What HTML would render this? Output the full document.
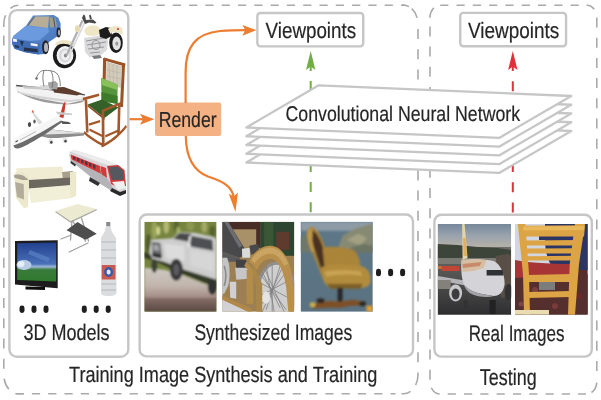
<!DOCTYPE html>
<html><head><meta charset="utf-8">
<style>
html,body{margin:0;padding:0;background:#fff;}
body{width:601px;height:400px;overflow:hidden;position:relative;}
body>svg{position:absolute;left:0;top:0;will-change:transform;}
text{font-family:"Liberation Sans",sans-serif;fill:#262626;text-rendering:geometricPrecision;stroke:#262626;stroke-width:0.2px;}
</style></head>
<body>
<svg width="601" height="400" viewBox="0 0 601 400">
<defs>
</defs>
<!-- outer dashed boxes -->
<g fill="none" stroke="#aaaaaa" stroke-width="1.6">
<path d="M26.1 5.2 H405" stroke-dasharray="8.2 8.1"/>
<path d="M15.6 393.8 H395.5" stroke-dasharray="8.2 8.1"/>
<path d="M3.8 35.5 V369" stroke-dasharray="10 10.2"/>
<path d="M418 29 V363" stroke-dasharray="10 10.2"/>
<path d="M10.40 8.27 A14.5 19 0 0 1 18.30 5.20"/>
<path d="M5.50 15.28 A14.5 19 0 0 0 3.80 24.20 L3.8 27"/>
<path d="M402.0 5.2 A14.5 19 0 0 1 408.93 6.58"/>
<path d="M411.82 8.64 A14.5 19 0 0 1 417.13 17.70"/>
<path d="M418 372.5 L418 374.8 A14.5 19 0 0 1 415.66 385.15"/>
<path d="M410.53 391.42 A14.5 19 0 0 1 403.50 393.80 L401.5 393.8"/>
<path d="M8.79 389.14 A14.5 19 0 0 1 4.12 378.75"/>
<path d="M15.53 393.45 A14.5 19 0 0 0 18.30 393.80 L23.8 393.8"/>
<path d="M440.2 5.2 H580" stroke-dasharray="8.2 8.1"/>
<path d="M447.7 394 H586" stroke-dasharray="8.2 8.1"/>
<path d="M430 26.4 V381" stroke-dasharray="10 10.2"/>
<path d="M596.8 17.5 V373" stroke-dasharray="10 10.2"/>
<path d="M433.84 7.85 A10 12.5 0 0 0 430.00 17.70 L430 17"/>
<path d="M586.45 5.21 A10 12.5 0 0 1 594.23 9.34"/>
<path d="M596.76 382.59 A10 12.5 0 0 1 591.49 392.54"/>
<path d="M431.34 387.75 A10 12.5 0 0 0 439.65 393.99"/>
</g>

<!-- inner boxes -->
<g fill="none" stroke="#c6c6c6" stroke-width="2.4">
  <rect x="9.4" y="10.15" width="118.9" height="346.55" rx="7.5"/>
  <rect x="139.65" y="214.55" width="273.35" height="141.85" rx="7"/>
  <rect x="434.4" y="214.8" width="157.4" height="141.8" rx="7"/>
  <rect x="257.35" y="12.95" width="105.9" height="33.4" rx="3"/>
  <rect x="460.25" y="12.9" width="105.8" height="33.3" rx="3"/>
</g>

<!-- Render box -->
<rect x="155" y="102.4" width="66.2" height="33.6" rx="2" fill="#f4b183"/>


<!-- orange arrows -->
<g fill="none" stroke="#ed7d31" stroke-width="2.2" stroke-linecap="butt">
  <path d="M129.6 119.2 H145"/>
  <path d="M185.6 103 V72 C185.6 46 196 33.5 220 31 C230 30.2 238 30.1 246 30.1"/>
  <path d="M185.8 136 C186 158 194 171 208 176.5 C223 181.5 232 186 234 198"/>
</g>
<g fill="#ed7d31">
  <path d="M154.4 119.2 L140 113.8 L143 119.2 L140 124.8 Z"/>
  <path d="M256.4 30.1 L242.4 24.9 L245.3 30.1 L242.4 35.7 Z"/>
  <path transform="translate(235.5 212) rotate(83.5)" d="M0 0 L-19 -4.6 L-15.5 0 L-19 4.6 Z"/>
</g>

<!-- green / red dashed arrows (behind CNN) -->
<g fill="none" stroke-width="2" >
  <path d="M310.7 212.3 V62" stroke="#70ad47" stroke-dasharray="10 10.2"/>
  <path d="M512.8 212.5 V62" stroke="#e0303a" stroke-dasharray="10 10.2"/>
</g>
<path d="M310.7 51 L306 70 L310.7 66.5 L315.4 70 Z" fill="#70ad47"/>
<path d="M512.8 51 L508.1 70 L512.8 66.5 L517.5 70 Z" fill="#e0303a"/>

<!-- CNN layers -->
<g fill="#fff" stroke="#c6c6c6" stroke-width="2.3" stroke-linejoin="round">
  <path d="M318.7 120.30 L571.3 131.00 L499.1 172.90 L246.3 162.50 Z"/>
  <path d="M318.7 111.55 L571.3 122.25 L499.1 164.15 L246.3 153.75 Z"/>
  <path d="M318.7 102.80 L571.3 113.50 L499.1 155.40 L246.3 145.00 Z"/>
  <path d="M318.7 94.05 L571.3 104.75 L499.1 146.65 L246.3 136.25 Z"/>
  <path d="M318.7 85.30 L571.3 96.00 L499.1 137.90 L246.3 127.50 Z"/>
</g>


<!-- synthesized image 1: truck -->
<svg x="144.3" y="221.8" width="72.3" height="90" viewBox="0 0 72.3 90">
  <defs>
    <linearGradient id="g1ground" x1="0" y1="0" x2="0" y2="1">
      <stop offset="0" stop-color="#cdc8c2"/>
      <stop offset="0.4" stop-color="#c2b6ae"/>
      <stop offset="0.7" stop-color="#a08880"/>
      <stop offset="1" stop-color="#5a4a46"/>
    </linearGradient>
    <filter id="bl1" x="-0.1" y="-0.1" width="1.2" height="1.2"><feGaussianBlur stdDeviation="0.8"/></filter>
  </defs>
  <rect width="72.3" height="90" fill="#76843f"/>
  <g filter="url(#bl1)">
    <ellipse cx="10" cy="8" rx="3" ry="9" fill="#98a25a"/>
    <ellipse cx="22" cy="5" rx="3" ry="7" fill="#b4b872"/>
    <ellipse cx="4" cy="22" rx="2.5" ry="10" fill="#4e5a2a"/>
    <ellipse cx="32" cy="5" rx="3" ry="6" fill="#5a6830"/>
    <ellipse cx="46" cy="4" rx="4" ry="5" fill="#8c9650"/>
    <ellipse cx="60" cy="5" rx="3" ry="6" fill="#a4a866"/>
    <ellipse cx="68" cy="10" rx="3" ry="6" fill="#56642e"/>
    <ellipse cx="14" cy="9" rx="2" ry="4.5" fill="#d0d48c"/>
    <ellipse cx="34" cy="10" rx="2" ry="5" fill="#a0b064"/>
    <path d="M0 46 L0 90 L72.3 90 L72.3 66 L60 62 L40 54 L20 48 Z" fill="url(#g1ground)"/>
    <path d="M0 36 L10 39 L25 46 L40 53 L60 61 L72.3 65 L72.3 56 L40 46 L20 40 L0 30 Z" fill="#343a26"/>
    <!-- truck body -->
    <path d="M7 18 L28 16.5 L35 10.5 L50 11 L68 15 L72.3 17 L72.3 58 L40 48 L30 44 L20 40 L8 37 L5 30 Z" fill="#cdcdcd"/>
    <path d="M29 17 L35 11.2 L47 12 L44 20 Z" fill="#48494c"/>
    <path d="M47 14 L68 18 L69 29 L47 25 L45 20 Z" fill="#4e4f53"/>
    <path d="M45 14 L47 14 L45 26 L43 25 Z" fill="#e6e6e6"/>
    <path d="M7.5 20 L16 21 L18 35 L8 34 Z" fill="#6a6b6e"/>
    <path d="M9 23 L14 23.5 L15 29 L9.5 28.5 Z" fill="#a6a7aa"/>
    <path d="M8 31 L17 33 L17 37 L8 35 Z" fill="#2a2a2a"/>
    <path d="M20 22 L40 24 L40 40 L22 36 Z" fill="#dcdcdc"/>
    <path d="M46 28 L70 32 L70 50 L46 44 Z" fill="#d6d6d6"/>
    <ellipse cx="32" cy="48" rx="6.5" ry="11" fill="#38383a"/>
    <ellipse cx="32" cy="48" rx="3" ry="6" fill="#5c5c5e"/>
    <ellipse cx="10" cy="44" rx="3" ry="7" fill="#3e4234"/>
    <ellipse cx="68" cy="65" rx="4.5" ry="8" fill="#333"/>
    <rect x="0" y="76" width="72.3" height="14" fill="#5a4640" opacity="0.4"/>
  </g>
</svg>

<!-- synthesized image 2: motorcycle -->
<svg x="222.2" y="221.8" width="72.1" height="90" viewBox="0 0 72.1 90">
  <defs>
    <filter id="bl2" x="-0.1" y="-0.1" width="1.2" height="1.2"><feGaussianBlur stdDeviation="0.7"/></filter>
  </defs>
  <rect width="72.1" height="90" fill="#9c8054"/>
  <g filter="url(#bl2)">
    <rect x="4" y="0" width="34" height="9" fill="#4a2e28"/>
    <rect x="33.5" y="0" width="4.5" height="26" fill="#4a2e28"/>
    <rect x="9" y="7.5" width="25" height="18" fill="#a89068"/>
    <rect x="38" y="0" width="34.1" height="34" fill="#2f4530"/>
    <rect x="42" y="0" width="9" height="30" fill="#3a5636"/>
    <rect x="54" y="10" width="13" height="18" fill="#5e3a2e"/>
    <path d="M0 0 L6 0 L22 26 L22 34 L17 36 L0 30 Z" fill="#4a4a4c"/>
    <path d="M2 0 L6 0 L20 24 L17 26 Z" fill="#6e6e72"/>
    <path d="M0 30 L17 36 L20 40 L0 40 Z" fill="#5a5a5a"/>
    <path d="M19.8 27 L27.5 26 L28 36 L20 36 Z" fill="#dadada"/>
    <path d="M27 24 L36 22 L37 30 L29 33 Z" fill="#4a4a4c"/>
    <!-- left engine / frame -->
    <path d="M0 36 L5 36 C8 44 8 56 6 64 L2 72 L0 72 Z" fill="#c4c4c6"/>
    <path d="M2 44 C4 50 4 58 2 64" stroke="#8a8a8a" stroke-width="1.5" fill="none"/>
    <path d="M13.5 38 L24 38 L25 46 L14 47 Z" fill="#424244"/>
    <path d="M13 46 L26 46 L26 57 L14 58 Z" fill="#c6c6c8"/>
    <path d="M7.5 60 L14 60 L14 77 L8 76 Z" fill="#d0d0d2"/>
    <rect x="24.5" y="48" width="6.5" height="34" fill="#b48c4a"/>
    <path d="M24 40 L38 56 L36 60 L22 44 Z" fill="#b48c4a"/>
    <path d="M0 77 L26 90 L0 90 Z" fill="#d2d2d4"/>
    <path d="M0 74 L28 86 L30 90 L26 90 L0 78 Z" fill="#b08848"/>
    <!-- wheel -->
    <ellipse cx="54" cy="72" rx="20" ry="32" fill="#909090"/>
    <ellipse cx="54" cy="72" rx="17" ry="29" fill="#cfcfd0"/>
    <g stroke="#808080" stroke-width="0.8">
      <path d="M40 50 L58 86 M44 44 L52 90 M50 42 L50 90 M58 44 L44 88 M64 50 L40 82 M68 58 L38 74 M36 60 L70 78 M38 52 L64 88 M42 46 L62 90 M60 46 L40 90"/>
    </g>
    <ellipse cx="44" cy="76" rx="4" ry="6" fill="#e4e4e4"/>
    <!-- fender -->
    <path d="M27 40 C31 30 40 24 48 24 C60 24 68 38 70 56 L72.1 70 L72.1 90 L66 90 L64 66 C62 50 56 37 48 37 C42 37 37 42 35 48 Z" fill="#b8904c"/>
    <path d="M29 38 C35 29 42 26 48 26 C56 26 62 32 66 42 L62 44 C58 36 54 32 48 32 C42 32 36 36 32 42 Z" fill="#c9a462"/>
    <path d="M31 40 L35 52 L40 62 L40 90 L34 90 L34 64 L30 48 Z" fill="#a88648"/>
  </g>
</svg>

<!-- synthesized image 3: chair by the sea -->
<svg x="300.6" y="221.8" width="72.2" height="90" viewBox="0 0 72.2 90">
  <defs>
    <filter id="bl3" x="-0.1" y="-0.1" width="1.2" height="1.2"><feGaussianBlur stdDeviation="0.8"/></filter>
    <linearGradient id="g3sea" x1="0" y1="0" x2="0" y2="1">
      <stop offset="0" stop-color="#5d7888"/>
      <stop offset="1" stop-color="#5a7282"/>
    </linearGradient>
  </defs>
  <rect width="72.2" height="90" fill="url(#g3sea)"/>
  <g filter="url(#bl3)">
    <rect x="0" y="0" width="72.2" height="9" fill="#8d9ba6"/>
    <path d="M36 30 L42 14 L52 8 L64 4 L72.2 2 L72.2 30 Z" fill="#878a72"/>
    <path d="M46 18 L58 12 L66 16 L60 24 Z" fill="#a3a084"/>
    <path d="M50 26 L62 22 L72.2 24 L72.2 31 L48 31 Z" fill="#6c7462"/>
    <path d="M0 16 L6 12 L12 18 L14 30 L0 31 Z" fill="#6e776a"/>
    <!-- chair back -->
    <path d="M6 12 C6 6 10 4 14 6 C18 9 22 18 26 30 L31 46 L22 56 C17 44 12 32 8 22 Z" fill="#a8843a"/>
    <path d="M12 9 C16 10 20 18 23 28 L26 44 L20 46 C17 36 13 26 11 18 C10.5 14 11 10 12 9 Z" fill="#4a3020"/>
    <path d="M7 14 C7 9 9 7 11 7 L12 12 C11 18 12 24 14 30 L11 30 C9 24 7 19 7 14 Z" fill="#c09a4c"/>
    <!-- seat and arm -->
    <path d="M22 26 C30 24 42 25 52 28 C58 32 60 40 60 46 L40 50 L24 46 Z" fill="#aa8438"/>
    <path d="M22 46 C26 42 40 42 56 44 C66 44 70 50 70 58 C70 64 66 66 60 66 L30 66 C24 64 20 56 22 46 Z" fill="#b28c3e"/>
    <path d="M24 50 C34 48 50 48 60 50 L62 54 C50 52 36 52 26 55 Z" fill="#c9a455"/>
    <path d="M26 62 L62 62 L60 67 L30 67 Z" fill="#7e6026"/>
    <!-- pedestal & base -->
    <rect x="37" y="66" width="5" height="18" fill="#262626"/>
    <path d="M12 82 L30 79 L38 80 L52 78 L64 80 L64 84 L50 84 L40 86 L26 86 L12 87 Z" fill="#7e5028"/>
    <ellipse cx="20" cy="79" rx="4" ry="2.5" fill="#2e2620"/>
    <ellipse cx="62" cy="82" rx="3.5" ry="2.5" fill="#2e2620"/>
    <ellipse cx="12" cy="83" rx="3" ry="2.5" fill="#c9b050"/>
    <rect x="66" y="84" width="6" height="6" fill="#e0a030"/>
  </g>
</svg>


<!-- real image 1: airplane -->
<svg x="437.6" y="224" width="73.6" height="90.7" viewBox="0 0 73.6 90.7">
  <defs>
    <filter id="bl4" x="-0.1" y="-0.1" width="1.2" height="1.2"><feGaussianBlur stdDeviation="0.7"/></filter>
    <linearGradient id="g4sky" x1="0" y1="0" x2="0" y2="1">
      <stop offset="0" stop-color="#76889a"/>
      <stop offset="0.5" stop-color="#9aa4ae"/>
      <stop offset="1" stop-color="#b8b2a6"/>
    </linearGradient>
    <linearGradient id="g4gnd" x1="0" y1="0" x2="0" y2="1">
      <stop offset="0" stop-color="#6c6c68"/>
      <stop offset="0.5" stop-color="#4e4e4e"/>
      <stop offset="1" stop-color="#2e2e30"/>
    </linearGradient>
  </defs>
  <rect width="73.6" height="24" fill="url(#g4sky)"/>
  <rect y="23" width="73.6" height="68" fill="url(#g4gnd)"/>
  <g filter="url(#bl4)">
    <path d="M0 20 L20 21 L40 23 L60 24 L73.6 26 L73.6 34 L0 35 Z" fill="#3e443a"/>
    <rect x="0" y="34" width="73.6" height="6" fill="#7a7a72"/>
    <rect x="4" y="42" width="18" height="5" fill="#c24434"/>
    <rect x="0" y="42" width="4" height="3" fill="#d07030"/>
    <!-- jet bridge -->
    <path d="M58 32 L70 30 L73.6 32 L73.6 70 L64 74 L60 50 Z" fill="#5a5046"/>
    <!-- tail -->
    <path d="M24.5 0 L27 0 L30 34 L25 36 Z" fill="#e4d2a8"/>
    <path d="M25.5 14 L28 14 L29.5 32 L26 32 Z" fill="#e0b060"/>
    <!-- wing -->
    <path d="M0 52 L30 57 L34 60 L30 62 L0 56 Z" fill="#b4b4b8"/>
    <rect x="0" y="56" width="13" height="9" fill="#84807a"/>
    <!-- fuselage -->
    <path d="M24 36 C32 35 48 35 56 37 C63 40 67 50 67 60 C66 68 62 72 56 72 L44 70 C36 68 30 66 26 60 C24 54 23 44 24 36 Z" fill="#d4d4d8"/>
    <path d="M24 36 C32 35 42 35 49 36 L46 44 L36 47 L25 48 Z" fill="#d6bea2"/>
    <path d="M25 40 L44 38 L42 42 L25 44 Z" fill="#c88a6a"/>
    <path d="M26 60 C30 66 36 68 44 70 L56 72 C50 74 40 73 34 70 C30 68 27 64 26 60 Z" fill="#a4a4a8"/>
    <path d="M49 46 L65 46 L66 51.5 L49 51.5 Z" fill="#2e3036"/>
    <!-- engines -->
    <ellipse cx="18" cy="69" rx="6.5" ry="8.5" fill="#c8c8cc"/>
    <ellipse cx="18" cy="70" rx="4" ry="5.5" fill="#3c3c40"/>
    <ellipse cx="71" cy="68" rx="4" ry="8" fill="#303034"/>
    <!-- gear -->
    <rect x="52" y="76" width="6" height="14" fill="#202022"/>
    <rect x="26" y="76" width="4" height="8" fill="#303032"/>
  </g>
</svg>


<!-- real image 2: wooden chair -->
<svg x="515" y="224" width="72.8" height="90.7" viewBox="0 0 72.8 90.7">
  <defs>
    <filter id="bl5" x="-0.1" y="-0.1" width="1.2" height="1.2"><feGaussianBlur stdDeviation="0.6"/></filter>
  </defs>
  <rect width="72.8" height="90.7" fill="#582c2c"/>
  <g filter="url(#bl5)">
    <rect x="0" y="0" width="72.8" height="44" fill="#d2d6e2"/>
    <path d="M30 0 L72.8 0 L72.8 46 L40 46 C34 40 30 30 30 16 Z" fill="#2a3566"/>
    <path d="M24 12 L40 12 L40 16 L24 16 Z" fill="#2e3560"/>
    <path d="M0 36 C10 38 30 40 60 40 L62 56 L0 57 Z" fill="#a83434"/>
    <path d="M0 54 L72.8 50 L72.8 90.7 L0 90.7 Z" fill="#552e2e"/>
    <circle cx="20" cy="66" r="3" fill="#7a4040"/>
    <circle cx="40" cy="82" r="3" fill="#7a3a3a"/>
    <circle cx="64" cy="72" r="3" fill="#6a2a2a"/>
    <circle cx="6" cy="80" r="2.5" fill="#7a4444"/>
    <rect x="24" y="58" width="16" height="8" fill="#7c7c7c"/>
    <!-- wood -->
    <g fill="#dca444">
      <path d="M2.8 0 L10.4 0 L14 50 L15 90.7 L9 90.7 L8 50 Z"/>
      <path d="M60 0 L70 0 L64 40 L60 90.7 L53 90.7 L54.7 40 Z"/>
      <path d="M7.9 1.8 L70 1.2 L69 12.6 L8.5 12.6 Z"/>
      <path d="M10 16.4 L64 16 L63.5 21.4 L10.5 21.4 Z"/>
      <path d="M10.5 24.6 L63 24.2 L62.5 29.6 L11 29.6 Z"/>
      <path d="M11 32.2 L62 31.8 L61.5 36.6 L11 36.6 Z"/>
      <path d="M12 51 L57 50 L57 58 L13 58 Z"/>
      <path d="M13 68 L56 67 L56 73 L13 74 Z"/>
    </g>
    <path d="M8 2.5 L69 2 L69 6 L8.2 6.5 Z" fill="#e8b85a"/>
    <rect x="0" y="86" width="34" height="4.7" fill="#e8dcb0"/>
  </g>
</svg>


<!-- 3D models -->
<defs>
  <filter id="blm" x="-0.05" y="-0.05" width="1.1" height="1.1"><feGaussianBlur stdDeviation="0.35"/></filter>
  <linearGradient id="gcar" x1="0" y1="0" x2="1" y2="1">
    <stop offset="0" stop-color="#6a98d8"/>
    <stop offset="1" stop-color="#4070b8"/>
  </linearGradient>
  <linearGradient id="gtv" x1="0" y1="0" x2="0" y2="1">
    <stop offset="0" stop-color="#22408e"/>
    <stop offset="0.55" stop-color="#4a70b8"/>
    <stop offset="0.62" stop-color="#9ab8d8"/>
    <stop offset="0.7" stop-color="#3a7a3a"/>
    <stop offset="1" stop-color="#2e7a2e"/>
  </linearGradient>
</defs>
<g filter="url(#blm)">
  <!-- car -->
  <path d="M12.3 38.4 L13.4 36.1 L26 25.8 L33 15.4 L53.7 14.9 L58.3 17.7 L60.6 23.5 L60.6 33.8 L56 37.3 L49 42 L46 48 L44 54 L38.7 54.5 L25 52.2 L14.6 48.8 L12.3 44.2 Z" fill="url(#gcar)"/>
  <path d="M13.4 36.1 L26 25.8 L48 28 L49 32 L40 40 L30 41 L13 38 Z" fill="#6c9ade"/>
  <path d="M27.2 25.2 L34.1 16.6 L49 16.6 L48 28 Z" fill="#b8ad96"/>
  <path d="M27.2 25.2 L34.1 16.6 L35.3 16.6 L28.6 25.4 Z" fill="#55627e"/>
  <path d="M49.7 17.4 L55.5 17.8 L57.1 27 L50 27.5 Z" fill="#a29a88"/>
  <path d="M53 17.6 L54 17.6 L55.5 27 L54.5 27 Z" fill="#44506a"/>
  <path d="M12.3 38.4 L40 43.5 L38.7 54.5 L25 52.2 L14.6 48.8 L12.3 44.2 Z" fill="#3f6cb4"/>
  <path d="M12.9 38.6 L16.9 39.2 L16.9 42 L13 41.5 Z" fill="#f2f4fa"/>
  <path d="M30.7 43 L37.6 44 L37.6 46.5 L30.7 45.6 Z" fill="#f0f2f8"/>
  <path d="M19.8 40.8 L23.8 41.4 L22 46.5 Z" fill="#24304a"/>
  <path d="M23.8 47.6 L37.6 49 L37.6 52.2 L24 51 Z" fill="#26324c"/>
  <path d="M14.6 45 L19 46 L19 48 L14.8 47.2 Z" fill="#2a3650"/>
  <ellipse cx="45.5" cy="47.2" rx="3.4" ry="7" fill="#26262a"/>
  <ellipse cx="46" cy="47.4" rx="2" ry="4.6" fill="#b4b6be"/>
  <ellipse cx="58.6" cy="32.4" rx="2.1" ry="5" fill="#26262a"/>
  <ellipse cx="59" cy="32.6" rx="1.1" ry="3" fill="#a4a6ae"/>

  <!-- motorcycle -->
  <ellipse cx="64.5" cy="55.5" rx="11.6" ry="12.8" fill="#1c1c1c"/>
  <ellipse cx="65" cy="55.5" rx="8.4" ry="9.6" fill="#f4f4f4"/>
  <ellipse cx="65" cy="55.5" rx="6.2" ry="7.2" fill="#d8d8dc"/>
  <ellipse cx="65.5" cy="55.5" rx="4.2" ry="5" fill="#f0f0f0"/>
  <ellipse cx="65.5" cy="55.5" rx="1.6" ry="2" fill="#8a8a8a"/>
  <path d="M55 44 C58 40 64 39 70 41 L76 45 L72 46 C66 43 60 43 56 46 Z" fill="#ede5c8"/>
  <path d="M65.5 55 L81.5 20 L83.5 21 L67.5 56 Z" fill="#b0b0b4"/>
  <path d="M68.5 55 L84 22 L85.5 23 L70 56 Z" fill="#dcdcdc"/>
  <ellipse cx="77.5" cy="28.7" rx="2.6" ry="3.4" fill="#e6dab0"/>
  <path d="M82 18 L83.5 14.5 L85 15.5 L86 20 L93 19.5 L96.5 22.5 L95 23.5 L89 22.5 L85 24 Z" fill="#4a4a4a"/>
  <path d="M89 15.5 L90.5 14.5 L92 19 L90 19.5 Z" fill="#4a4a4a"/>
  <ellipse cx="116" cy="42.8" rx="6.8" ry="10.2" fill="#1c1c1c"/>
  <ellipse cx="116.6" cy="43.4" rx="4.2" ry="6.8" fill="#e2e2e2"/>
  <ellipse cx="116.8" cy="43.6" rx="1.5" ry="2.2" fill="#9a9a9a"/>
  <path d="M84 38 L104 35 L108 40 L107 50 L100 56 L90 57.5 L85 52 Z" fill="#dadadc"/>
  <g fill="none" stroke="#8e8e92" stroke-width="0.9">
    <path d="M86 41 L104 38 M87 45 L106 42 M88 49 L104 47 M90 53 L100 52"/>
    <ellipse cx="96" cy="45" rx="4" ry="4.5"/>
  </g>
  <path d="M92 56 L100 55 L102 58 L94 59 Z" fill="#7a7a7e"/>
  <path d="M84.5 30 C86 26 90 25 95 25.5 C99 26 101 29 100.5 33 C98 36 92 36.5 88 35.5 C85.5 34.5 84 32.5 84.5 30 Z" fill="#efe6c6"/>
  <path d="M99 30 L106 27 L111 28 L112 36 L106 39 L100 37 Z" fill="#1e1e1e"/>
  <path d="M108 29 C112 25.5 118 25 122.5 28.5 L122.5 35 L118.5 33 C115.5 31 112.5 31.5 110.5 34 Z" fill="#eee5c6"/>
  <circle cx="118" cy="29" r="1" fill="#b03030"/>

  <!-- boat -->
  <path d="M15.1 87 L16.3 84.7 C35 86.5 60 89.5 85.2 94.2 L84 100 C78 103 72 104 68 103.7 C55 102.5 44 100.5 36 98 C26 95 19 92.5 15.1 88.5 Z" fill="#f2f2f2"/>
  <path d="M16.5 90.5 C24 95 38 99 68 103.7 L84 100 L83 102 C74 105 62 105 50 103 C36 101 24 96.5 16.5 90.5 Z" fill="#9c9c9c"/>
  <path d="M17 91 C30 95 50 98 70 100 L84 98.5 L84 100 L70 102 C50 100.5 30 97 17 92.5 Z" fill="#d4d4d4"/>
  <path d="M16.3 84.7 C35 86.5 60 89.5 85.2 94.2 L84.6 95.6 C60 91 35 88 16 86.2 Z" fill="#555"/>
  <path d="M22 86 L50 87 L52 90 L24 88.5 Z" fill="#c8c8c8"/>
  <path d="M53 87.5 L64 87 L82 93.5 L77 95.5 L54 92.5 Z" fill="#5c3e2e"/>
  <path d="M48 82.5 L55.5 81 L58 84 L57 89.5 L48.5 88.5 Z" fill="#a2a2a2"/>
  <path d="M40 85.5 L48 85 L50 89 L42 89 Z" fill="#d8d8d8"/>
  <g fill="none" stroke="#707070" stroke-width="0.9">
    <path d="M36.5 78 C38 73 41 70.5 44 70.4 C49 70.2 54 70.8 56.5 73 C59.5 76 60.3 81 60.3 86"/>
    <path d="M44 86.5 C42.5 80 42.5 75 44 70.4"/>
    <path d="M52 87.5 C53.5 81 53.5 76 51 71"/>
  </g>
  <circle cx="36.5" cy="78.5" r="1.2" fill="#666"/>

  <!-- rocking chair -->
  <g fill="#9a5228">
    <path d="M103.1 58.1 L106.3 58.1 L105 101 L102.2 101 Z"/>
    <path d="M121.9 63.8 L125 64.5 L123 107 L120 107 Z"/>
    <path d="M104 57.6 L125.5 63.6 L125 66.4 L104 60.6 Z"/>
  </g>
  <path d="M106.3 61.6 L121.9 66 L121 88 L106 84 Z" fill="#d2cabb"/>
  <g stroke="#b8b0a2" stroke-width="0.6" fill="none">
    <path d="M109 63 L110 85 M113 64 L113.5 86 M117 65 L117 87 M107 70 L121 73 M107 76 L121 79"/>
  </g>
  <path d="M101.2 78 L117.5 84.5 L117.5 104 L101.5 101 Z" fill="#56953a"/>
  <path d="M101.2 78 L117.5 84.5 L117.5 90 L101.5 85 Z" fill="#88c05c"/>
  <path d="M101.5 92 L117.5 96 L117.5 104 L101.5 101 Z" fill="#3e7a2c"/>
  <!-- seat -->
  <path d="M87.6 104.5 L102 99.5 L118.5 107.5 L104.5 118 Z" fill="#35612a"/>
  <path d="M87.6 104.5 L104.5 118 L104.5 120 L87.6 106.5 Z" fill="#8a4a22"/>
  <g fill="#a2582a">
    <path d="M82.6 97.8 L98.8 93.4 L99.4 96 L83.2 100.5 Z"/>
    <path d="M84.6 99.5 L87.2 99.5 L88.6 132.5 L86 132.5 Z"/>
    <path d="M101.6 111 L104.3 111 L104.6 146 L101.9 146 Z"/>
    <path d="M118 104 L120.6 104 L119.8 134 L117.2 134 Z"/>
    <path d="M101.5 110 L120.6 102 L121.2 104.6 L102.1 112.6 Z"/>
    <path d="M84.4 131 C90 136 96 140.5 104 144 L103.6 146.5 C95.5 143 89.5 138.5 83.6 133.5 Z"/>
    <path d="M101 145 C110 141 118 134.5 125.8 125 L127 127 C119.5 136.5 111.5 143 102 147.5 Z"/>
    <path d="M88.6 123.6 L100 120 L100.3 122.2 L89 125.8 Z"/>
    <path d="M89.6 128.6 L103.4 135.2 L103 137.4 L89.3 130.8 Z"/>
    <path d="M105 135.3 L118 129.6 L118.4 131.8 L105.4 137.5 Z"/>
  </g>

  <!-- airplane -->
  <path d="M39 131 L52 129.5 L84.2 133 L84 135.5 L58 138 L48.4 138 L40 136 Z" fill="#8c8c8c"/>
  <path d="M41 131.5 L52 129.8 L84 133.2 L60 134 L46 134.5 Z" fill="#e2e2e2"/>
  <path d="M12.7 145 C11.8 142 13.5 139 17.5 136.5 L58 115.5 L63.5 113.5 L65 116.5 L61 121 L23 145 C18 148.5 14 148.5 12.7 145 Z" fill="#f6f6f6"/>
  <path d="M13.5 145.5 C20 143.5 32 137.5 46 129.5 L61 120.5 L63 121.5 L47 133 C35 140.5 25 146.5 19 148.3 C15.5 149 13.5 147.5 13.5 145.5 Z" fill="#6c6c6c"/>
  <path d="M20 140 L36 131.5" stroke="#a8a8a8" stroke-width="0.8"/>
  <path d="M15.5 142 L18 140.5" stroke="#555" stroke-width="1.2"/>
  <path d="M59.5 117 L63 104.5 L65.3 101.3 L65.3 106 L63.5 118 Z" fill="#c83a2a"/>
  <path d="M55.5 111.5 L72 113.5 L72 115 L58 114.5 Z" fill="#cacaca"/>
  <path d="M61 121 L69 122 L71 124 L62.5 124 Z" fill="#555"/>
  <path d="M38.9 124.5 L31.8 112.3 L33.2 112 L42.5 122.5 Z" fill="#dadada"/>
  <path d="M31.5 112.2 L33 109.5 L34 112.8 Z" fill="#d06040"/>
  <ellipse cx="29.5" cy="124.5" rx="1.6" ry="2.6" fill="#4a4a4a"/>
  <ellipse cx="34.5" cy="121.5" rx="1.2" ry="2" fill="#5a5a5a"/>
  <ellipse cx="50.8" cy="141.2" rx="2.4" ry="3" fill="#e4e4e4"/>
  <ellipse cx="51.3" cy="142.2" rx="1.2" ry="1.5" fill="#404040"/>
  <ellipse cx="65" cy="140.2" rx="2.4" ry="2.8" fill="#e4e4e4"/>
  <ellipse cx="65.5" cy="141.2" rx="1.2" ry="1.4" fill="#404040"/>

  <!-- train -->
  <path d="M70 151.4 L75 150 L104.5 159.5 L118 165 L123 170 L126 190.5 L122 193 L115 193 L96 181 L70.7 160.8 L69 155 Z" fill="#d6d6d8"/>
  <path d="M70 151.4 L75 150 L104.5 159.5 L118 165 L110 165.5 L100 162.5 Z" fill="#ececec"/>
  <path d="M70.5 154.5 L100 166 L101 174 L71.5 159.5 Z" fill="#d23a3a"/>
  <g fill="#4a3a40">
    <path d="M73 156 L75.5 157 L75.5 160 L73 159 Z"/>
    <path d="M77 157.6 L79.5 158.6 L79.5 161.8 L77 160.7 Z"/>
    <path d="M81 159.2 L83.5 160.2 L83.5 163.6 L81 162.5 Z"/>
    <path d="M85 160.8 L87.5 161.8 L87.5 165.4 L85 164.3 Z"/>
    <path d="M89 162.4 L91.5 163.4 L91.5 167.2 L89 166.1 Z"/>
    <path d="M93 164 L95.5 165 L95.5 169 L93 167.9 Z"/>
  </g>
  <path d="M100.5 166 L106 168 L107 178 L101.5 175 Z" fill="#d23a3a"/>
  <path d="M107 166 L118 165 L124.5 170 L126 186 L120 188 L111 184 Z" fill="#d23a3a"/>
  <path d="M108.5 167 L118 166.5 L123.4 171 L123.5 179.7 L112 180 Z" fill="#54585e"/>
  <path d="M112 182 L124 181 L125.5 188 L118 190 Z" fill="#f0f0f0"/>
  <path d="M71.5 159.5 L101 174 L107 178 L111 184 L115 193 L96 181 L70.7 160.8 Z" fill="#b4b4b8"/>
  <path d="M90 177 L100 183 L98 186 L89 181 Z" fill="#333"/>
  <path d="M112 188 L120 192 L126 190 L126 193.5 L120 196 L110 191 Z" fill="#2a2a2a"/>
  <path d="M70.7 160.8 L76 164.5 L75 166.5 L70.5 163 Z" fill="#333"/>

  <!-- sofa -->
  <path d="M16.2 168.2 L62.5 166.4 L63 178 L28.7 182 L17 180 Z" fill="#f0ecd4"/>
  <path d="M62 172 L72 171 L75.5 173 L71 183 L63 180 Z" fill="#a89e8c"/>
  <path d="M28.7 180 L71.2 177.5 L71.2 185.5 L28.7 189 Z" fill="#6c6860"/>
  <path d="M28.7 188.5 L71.2 185 L71.2 198.2 L31 203 Z" fill="#f2efd8"/>
  <path d="M70 172 L76.2 172 L76.2 195.7 L71.2 198.2 L70 190 Z" fill="#ece8cc"/>
  <path d="M13.7 175.7 C14 172 18 171 22 172 L28.7 176 L29 184.5 L28 207 L24 208.2 L16 198 L15 182 Z" fill="#ece8cc"/>
  <path d="M15 182 L23.7 184 L24 199.5 L17 197 Z" fill="#b4ac9a"/>
  <path d="M13.7 175.7 C16 174 20 174 24 176 L28.7 180 L22 180 L15 178 Z" fill="#a8a090"/>

  <!-- table -->
  <g stroke="#a0a0a0" stroke-width="1.3" fill="none" stroke-linecap="round">
    <path d="M72.5 220.5 L85.5 241.2 M81.5 218 L88.5 241 M61 239 L70 235.5 M69.2 252 L88 243 M72 221 L70.5 240"/>
  </g>
  <path d="M66.5 230.2 L77.5 222 L96.7 233.7 L85.7 239.8 Z" fill="#4e4e4e"/>
  <path d="M55.5 211 L77.5 204.1 L96.7 208.9 L70.6 221.3 Z" fill="#ecead0"/>
  <path d="M55.5 211 L70.6 221.3 L96.7 208.9 L96.7 210.2 L70.6 222.8 L55.5 212.3 Z" fill="#a4a49a"/>

  <!-- TV -->
  <path d="M15 241 L57.7 240.2 L57.7 288.2 L15 284.5 Z" fill="#1a1a1a"/>
  <path d="M17.2 243.2 L56.2 242.5 L56.2 281.5 L17.2 280 Z" fill="url(#gtv)"/>
  <ellipse cx="24" cy="265" rx="7.5" ry="5" fill="#b8cce6"/>
  <ellipse cx="21" cy="264" rx="3.5" ry="3" fill="#e6eef8"/>
  <path d="M30 250 L50 258 L48 262 L28 254 Z" fill="#5a80c4" opacity="0.7"/>
  <path d="M25.5 286.5 L45 287 L45 290 L25.5 289.5 Z" fill="#111"/>

  <!-- bottle -->
  <rect x="106.2" y="222" width="4.1" height="4.5" fill="#8a8a8a"/>
  <path d="M106 226.5 L110.5 226.5 L112 232 L116 238 L116.5 292 C116.5 295 114 296 108.5 296 C103 296 101 295 101.1 292 L101 238 L104.5 232 Z" fill="#dadcde"/>
  <g stroke="#b0b4b8" stroke-width="0.9">
    <path d="M101.5 242 H116 M101.5 250 H116 M101.5 258 H116 M101.5 284 H116 M101.5 290 H116"/>
  </g>
  <rect x="101.7" y="265" width="13.8" height="14.5" fill="#c85a50"/>
  <ellipse cx="108.6" cy="272" rx="4.5" ry="5" fill="#3a5aa8"/>
  <ellipse cx="108.6" cy="272" rx="2" ry="2.5" fill="#e8e8f0"/>
</g>

<!-- dots -->
<g fill="#1e1e1e">
  <rect x="19.5" y="305.5" width="5" height="7.5" rx="2.4"/>
  <rect x="31.5" y="305.5" width="5" height="7.5" rx="2.4"/>
  <rect x="43.5" y="305.5" width="5" height="7.5" rx="2.4"/>
  <rect x="81.8" y="305.5" width="5" height="7.5" rx="2.4"/>
  <rect x="93.7" y="305.5" width="5" height="7.5" rx="2.4"/>
  <rect x="105.7" y="305.5" width="5" height="7.5" rx="2.4"/>
  <rect x="376" y="268.8" width="5" height="7.5" rx="2.4"/>
  <rect x="388.1" y="268.8" width="5" height="7.5" rx="2.4"/>
  <rect x="400.1" y="268.8" width="5" height="7.5" rx="2.4"/>
</g>

<!-- texts -->
<text x="265.6" y="38.3" font-size="22.2" textLength="90.5" lengthAdjust="spacingAndGlyphs">Viewpoints</text>
<text x="468" y="38.3" font-size="22.2" textLength="91.3" lengthAdjust="spacingAndGlyphs">Viewpoints</text>
<text x="158.8" y="127.1" font-size="21.8" textLength="57.8" lengthAdjust="spacingAndGlyphs">Render</text>
<text x="285.5" y="121.3" font-size="21.4" textLength="234.6" lengthAdjust="spacingAndGlyphs">Convolutional Neural Network</text>
<text x="23.4" y="340" font-size="22.4" textLength="86.2" lengthAdjust="spacingAndGlyphs">3D Models</text>
<text x="194.4" y="339.9" font-size="22.5" textLength="158" lengthAdjust="spacingAndGlyphs">Synthesized Images</text>
<text x="468.8" y="340.9" font-size="22.4" textLength="95.8" lengthAdjust="spacingAndGlyphs">Real Images</text>
<text x="69" y="382.3" font-size="22.2" textLength="308.4" lengthAdjust="spacingAndGlyphs">Training Image Synthesis and Training</text>
<text x="479.8" y="384.6" font-size="23" textLength="56.8" lengthAdjust="spacingAndGlyphs">Testing</text>
</svg>
</body></html>
